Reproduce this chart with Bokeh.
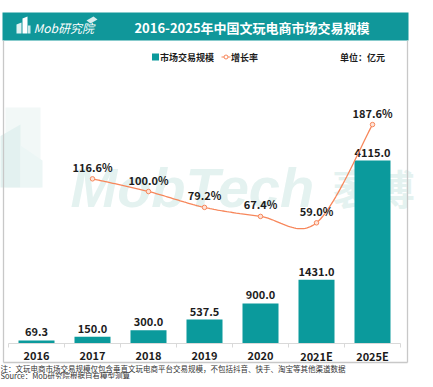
import numpy as np
from bokeh.plotting import figure
from bokeh.models import Range1d
from bokeh.core.properties import value
from bokeh.embed import file_html
from bokeh.resources import INLINE

# ---------------- data ----------------
years = ["2016", "2017", "2018", "2019", "2020", "2021E", "2025E"]
market = [69.3, 150.0, 300.0, 537.5, 900.0, 1431.0, 4115.0]
growth_years_idx = [1, 2, 3, 4, 5, 6]
growth = [116.6, 100.0, 79.2, 67.4, 59.0, 187.6]

title = "2016-2025年中国文玩电商市场交易规模"
legend_bar = "市场交易规模"
legend_line = "增长率"
unit_text = "单位：亿元"
note1 = "注：文玩电商市场交易规模仅包含垂直文玩电商平台交易规模，不包括抖音、快手、淘宝等其他渠道数据"
note2 = "Source：Mob研究院根据自有模型测算"

# ---------------- styling ----------------
TEAL = "#0b9a9c"
HEAD = "#10979a"
ORANGE = "#f7875b"
DARK = "#1c1c1c"
FONT = value("Noto Sans CJK SC")

W, H = 417, 379
CAT_PX = 56.0            # px per category
X0_PX = 8.0              # left edge of category band (fig px)
BASE_PX = 343.0          # bar baseline (fig px from top)
K = 183.0 / 4115.0       # px per market unit
G = 0.764                # px per growth percent
G0_PX = 267.4            # growth 0% (fig px from top)

x_start = -0.5 - X0_PX / CAT_PX
p = figure(width=W, height=H, output_backend="svg", toolbar_location=None,
           x_range=Range1d(x_start, x_start + W / CAT_PX),
           y_range=Range1d(-(H - BASE_PX) / K, BASE_PX / K),
           min_border=0, x_axis_type=None, y_axis_type=None, title=None)
p.outline_line_color = None
p.background_fill_color = "white"
p.border_fill_color = "white"
p.grid.visible = False
p.extra_x_ranges = {"px": Range1d(0, W)}
p.extra_y_ranges = {"py": Range1d(H, 0),
                    "g": Range1d(-(H - G0_PX) / G, G0_PX / G)}

PX = dict(x_range_name="px", y_range_name="py")

# ---------------- watermark ----------------
p.quad(left=[5], right=[40], top=[107], bottom=[187], fill_color="#f2f8f7",
       line_color=None, **PX)
p.patch(x=[-8, 20, 20, -8], y=[140, 124, 187, 187], fill_color="#e3f1f0",
        line_color=None, **PX)
p.patch(x=[20, 42, 42, 20], y=[145, 160, 187, 187], fill_color="#ecf6f5",
        line_color=None, **PX)
p.text(x=[70], y=[187], text=["MobTech"], text_font=value("Liberation Sans"),
       text_font_style="bold italic", text_font_size="56px",
       text_color="#e4f2f0", text_baseline="alphabetic", **PX)
p.text(x=[332], y=[186], text=["袤博"], text_font=FONT,
       text_font_style="bold", text_font_size="41px",
       text_color="#e4f2f0", text_baseline="alphabetic", **PX)

# ---------------- header ----------------
p.quad(left=[2], right=[408], top=[12], bottom=[40], fill_color=HEAD,
       line_color=None, **PX)
p.text(x=[251.5], y=[26.5], text=[title], text_font=FONT, text_font_style="bold",
       text_font_size="13px", text_color="white", text_align="center",
       text_baseline="middle", **PX)
# logo
p.patch(x=[16, 16, 21, 21], y=[33, 24, 22, 33], fill_color="#dff1f1",
        line_color=None, **PX)
p.patch(x=[22, 22, 27, 27], y=[33, 18, 16, 33], fill_color="white",
        line_color=None, **PX)
p.patch(x=[27.5, 27.5, 30, 30], y=[33, 25, 25, 33], fill_color="#cfeaea",
        line_color=None, **PX)
p.patch(x=[86, 93, 97, 90], y=[20, 16, 19, 23], fill_color="#d8eeee",
        line_color=None, **PX)
p.text(x=[33], y=[27], text=["Mob研究院"], text_font=FONT,
       text_font_style="italic", text_font_size="12px", text_color="white",
       text_baseline="middle", **PX)

# ---------------- frame box ----------------
p.multi_line(xs=[[3, 3], [407, 407], [3, 407]], ys=[[40, 362], [40, 362], [362, 362]],
             line_color="#c8c8c8", line_width=1.3, **PX)

# ---------------- legend ----------------
p.quad(left=[151.5], right=[158.5], top=[53], bottom=[60], fill_color=TEAL,
       line_color=None, **PX)
p.text(x=[159.5], y=[56.5], text=[legend_bar], text_font=FONT, text_font_style="bold",
       text_font_size="9px", text_color=DARK, text_baseline="middle", **PX)
p.line(x=[221, 230], y=[56.5, 56.5], line_color=ORANGE, line_width=1.2, **PX)
p.scatter(x=[225.5], y=[56.5], size=4, line_color=ORANGE, fill_color="white", **PX)
p.text(x=[230.5], y=[56.5], text=[legend_line], text_font=FONT, text_font_style="bold",
       text_font_size="9px", text_color=DARK, text_baseline="middle", **PX)
p.text(x=[384.5], y=[56.5], text=[unit_text], text_font=FONT, text_font_style="bold",
       text_font_size="9px", text_color=DARK, text_align="right",
       text_baseline="middle", **PX)

# ---------------- bars ----------------
idx = list(range(len(years)))
p.vbar(x=idx, top=market, bottom=0, width=36 / CAT_PX, fill_color=TEAL,
       line_color=None)

# x axis
p.segment(x0=[-0.5], x1=[6.5], y0=[BASE_PX], y1=[BASE_PX], line_color="#d9d9d9",
          line_width=1.2, y_range_name="py")
ticks = [i - 0.5 for i in range(len(years) + 1)]
p.segment(x0=ticks, x1=ticks, y0=[BASE_PX] * len(ticks), y1=[BASE_PX + 4] * len(ticks),
          line_color="#d9d9d9", line_width=1, y_range_name="py")
p.text(x=idx, y=[355] * len(idx), text=years, text_font=FONT, text_font_style="bold",
       text_font_size="11px", text_color=DARK, text_align="center",
       text_baseline="middle", y_range_name="py")

# bar value labels
p.text(x=idx, y=[v + 4 / K for v in market], text=[f"{v:.1f}" for v in market],
       text_font=FONT, text_font_style="bold", text_font_size="11px",
       text_color=DARK, text_align="center", text_baseline="bottom")


# ---------------- growth line (smoothed) ----------------
def catmull_rom(xs, ys, n=30):
    pts = list(zip(xs, ys))
    ext = [pts[0]] + pts + [pts[-1]]
    ox, oy = [], []
    for i in range(len(pts) - 1):
        p0, p1, p2, p3 = ext[i], ext[i + 1], ext[i + 2], ext[i + 3]
        m1 = ((p2[0] - p0[0]) / 2, (p2[1] - p0[1]) / 2)
        m2 = ((p3[0] - p1[0]) / 2, (p3[1] - p1[1]) / 2)
        ts = np.linspace(0, 1, n, endpoint=(i == len(pts) - 2))
        for t in ts:
            h00 = 2 * t**3 - 3 * t**2 + 1
            h10 = t**3 - 2 * t**2 + t
            h01 = -2 * t**3 + 3 * t**2
            h11 = t**3 - t**2
            ox.append(h00 * p1[0] + h10 * m1[0] + h01 * p2[0] + h11 * m2[0])
            oy.append(h00 * p1[1] + h10 * m1[1] + h01 * p2[1] + h11 * m2[1])
    return ox, oy


sx, sy = catmull_rom(growth_years_idx, growth)
p.line(x=sx, y=sy, line_color=ORANGE, line_width=1.3, y_range_name="g")
p.scatter(x=growth_years_idx, y=growth, size=4.5, line_color=ORANGE,
          fill_color="#fde3d8", line_width=1, y_range_name="g")
p.text(x=growth_years_idx, y=[g + 4 / G for g in growth],
       text=[f"{g:.1f}%" for g in growth], text_font=FONT, text_font_style="bold",
       text_font_size="11px", text_color=DARK, text_align="center",
       text_baseline="bottom", y_range_name="g")

# ---------------- notes ----------------
p.text(x=[0], y=[367.5], text=[note1], text_font=FONT, text_font_size="7.5px",
       text_color="#333333", text_baseline="middle", **PX)
p.text(x=[0], y=[374.5], text=[note2], text_font=FONT, text_font_size="7.5px",
       text_color="#333333", text_baseline="middle", **PX)

open("out.html", "w").write(file_html(p, INLINE))
